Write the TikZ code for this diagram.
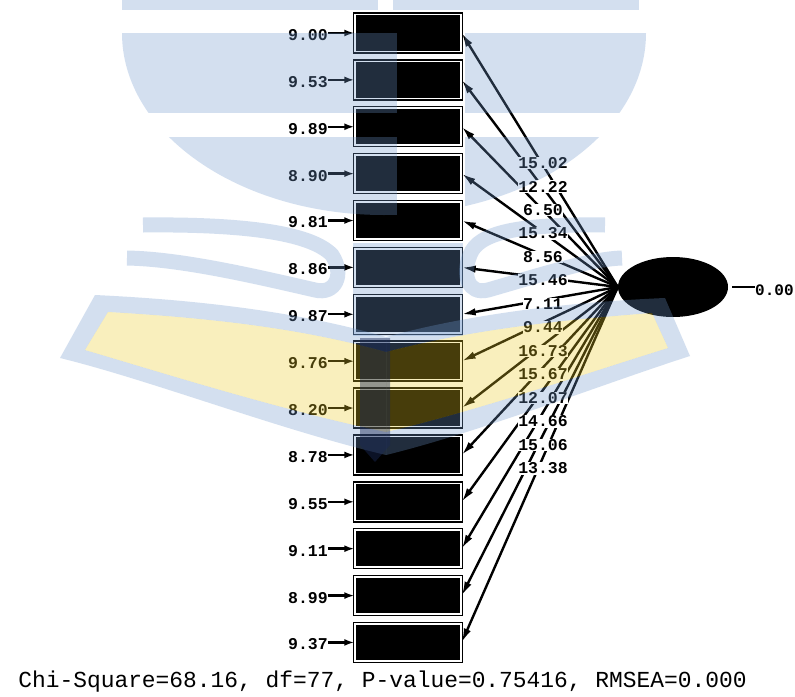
\documentclass[tikz,border=0pt]{standalone}
\usepackage{fontspec}
\setmonofont{Liberation Mono}
\usetikzlibrary{arrows.meta,shapes.geometric}
\definecolor{wmblue}{RGB}{112,152,205}
\definecolor{wmyel}{RGB}{238,205,38}
\definecolor{wmnavy}{RGB}{25,40,85}
\tikzset{
  obs/.style={draw=black, line width=1.4pt, double=white, double distance=1.6pt,
    fill=black, minimum width=106pt, minimum height=37pt, inner sep=0pt},
  latent/.style={ellipse, fill=black, draw=none, minimum width=110pt,
    minimum height=60pt, inner sep=0pt},
  errlab/.style={font=\ttfamily\bfseries\fontsize{16.5}{18}\selectfont,
    anchor=east, inner sep=0pt},
  loadlab/.style={font=\ttfamily\bfseries\fontsize{16.5}{18}\selectfont,
    fill=white, inner sep=0.6pt},
  errarr/.style={line width=2.4pt, -{Latex[length=10pt,width=7pt]}},
  loadarr/.style={line width=2.4pt, -{Latex[length=14pt,width=7.5pt]}},
  wm/.style={fill=wmblue, opacity=0.3},
  wmy/.style={fill=wmyel, opacity=0.3},
}
\begin{document}
\begin{tikzpicture}[x=1pt,y=-1pt]
\useasboundingbox (0,0) rectangle (795,696);
\fill[white] (0,0) rectangle (795,696);

% latent variable
\node[latent] (lat) at (673,287) {};
\node[font=\ttfamily\bfseries\fontsize{16}{18}\selectfont, anchor=west, inner sep=0pt] (z) at (755,290) {0.00};
\draw[line width=2pt] ([xshift=4pt]lat.east) -- (z.west |- lat.east);

% observed variables, error terms
\foreach \i/\e in {1/9.00,2/9.53,3/9.89,4/8.90,5/9.81,6/8.86,7/9.87,8/9.76,9/8.20,10/8.78,11/9.55,12/9.11,13/8.99,14/9.37}{
  \pgfmathsetmacro{\yc}{33+46.88*(\i-1)}
  \node[obs] (b\i) at (408,\yc) {};
  \node[errlab] (e\i) at (328,\yc+2) {\e};
  \draw[errarr] (e\i.east |- b\i.west) -- (b\i.west);
}

% loadings
\foreach \i in {1,...,14}{
  \draw[loadarr] (lat.west) -- (b\i.east);
}
\foreach \i/\l in {1/15.02,2/12.22,3/6.50,4/15.34,5/8.56,6/15.46,7/7.11,8/9.44,9/16.73,10/15.67,11/12.07,12/14.66,13/15.06,14/13.38}{
  \pgfmathsetmacro{\yl}{163+23.5*(\i-1)}
  \node[loadlab] (l\i) at (543,\yl) {\l};
}

% fit statistics
\node[font=\ttfamily\fontsize{22.9}{26}\selectfont, anchor=base, inner sep=0pt] (chi) at (382.5,687)
  {Chi-Square=68.16, df=77, P-value=0.75416, RMSEA=0.000};

% ---- watermark (faint logo drawn over the picture) ----
\fill[wm] (122,0) rectangle (378,10);
\fill[wm] (393,0) rectangle (639,10);
\begin{scope}
  \clip (384,33) ellipse [x radius=262, y radius=182];
  \fill[wm] (100,33) rectangle (397,113);
  \fill[wm] (465,33) rectangle (670,113);
  \fill[wm] (100,137) rectangle (397,230);
  \fill[wm] (465,137) rectangle (670,230);
\end{scope}
% page edges
\draw[wmblue, opacity=0.3, line width=15pt]
  (143,225) .. controls (240,224) and (310,232) .. (332,255)
  .. controls (345,275) and (335,295) .. (315,290)
  .. controls (250,275) and (180,259) .. (127,258);
\draw[wmblue, opacity=0.3, line width=15pt]
  (605,225) .. controls (520,224) and (478,232) .. (470,255)
  .. controls (462,275) and (468,295) .. (488,290)
  .. controls (540,275) and (590,259) .. (622,258);
\fill[wm] (353,243) rectangle (463,336);
% pages
\fill[wm, even odd rule]
  (95,295) .. controls (200,300) and (300,312) .. (386,337) -- (386,455)
  .. controls (280,430) and (150,380) .. (60,358) -- cycle
  (108,312) .. controls (210,318) and (300,328) .. (386,352) -- (386,432)
  .. controls (280,410) and (160,372) .. (85,350) -- cycle;
\fill[wmy]
  (108,312) .. controls (210,318) and (300,328) .. (386,352) -- (386,432)
  .. controls (280,410) and (160,372) .. (85,350) -- cycle;
\fill[wm, even odd rule]
  (665,298) .. controls (570,302) and (470,314) .. (386,337) -- (386,455)
  .. controls (480,432) and (600,385) .. (690,356) -- cycle
  (652,313) .. controls (560,320) and (470,330) .. (386,352) -- (386,432)
  .. controls (480,410) and (590,372) .. (668,348) -- cycle;
\fill[wmy]
  (652,313) .. controls (560,320) and (470,330) .. (386,352) -- (386,432)
  .. controls (480,410) and (590,372) .. (668,348) -- cycle;
% torch
\fill[wmnavy, opacity=0.45]
  (360,338) -- (390,338) -- (390,445) -- (375,462) -- (360,445) -- cycle;
\end{tikzpicture}
\end{document}
